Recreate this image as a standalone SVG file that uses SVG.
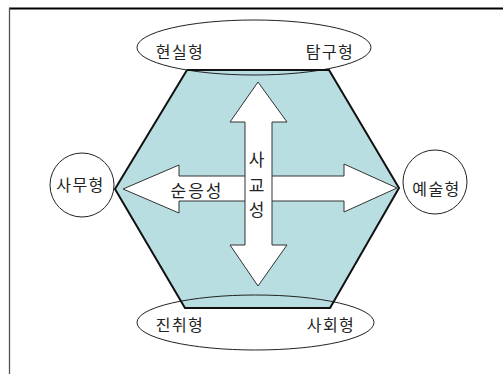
<svg xmlns="http://www.w3.org/2000/svg" width="503" height="374" viewBox="0 0 503 374">
<style>
text{font-family:"Noto Sans CJK KR","Noto Sans",sans-serif;fill:#222;text-anchor:middle}
.lbl{font-size:16px;letter-spacing:1.5px}
.big{font-size:17px;letter-spacing:2px}
.node{fill:none;stroke:#222;stroke-width:1}
.arrow{fill:#fff;stroke:#333;stroke-width:1;stroke-linejoin:miter}
</style>
<rect x="0" y="0" width="503" height="374" fill="#fff"/>
<g id="frame">
<line x1="9" y1="8.5" x2="503" y2="8.5" stroke="#000" stroke-width="2"/>
<line x1="9.5" y1="8" x2="9.5" y2="374" stroke="#555" stroke-width="1.3"/>
</g>
<g id="hexagon">
<polygon points="187,70 329,70 399,188 330,308 185,308 115,189" fill="#B9DEE2"/>
</g>
<g id="top-ellipse">
<ellipse class="node" cx="254" cy="47.5" rx="117" ry="27.5"/>
<text class="lbl" x="180" y="58">현실형</text>
<text class="lbl" x="330" y="58">탐구형</text>
</g>
<g id="bottom-ellipse">
<ellipse class="node" cx="255.5" cy="322.5" rx="118.5" ry="27.5"/>
<text class="lbl" x="180" y="331">진취형</text>
<text class="lbl" x="331" y="331">사회형</text>
</g>
<g id="hexagon-edges">
<polyline points="187,70 329,70 399,188 330,308 185,308 115,189 187,70" fill="none" stroke="#111" stroke-width="2" stroke-linejoin="miter"/>
</g>
<g id="left-node">
<circle class="node" cx="82" cy="185" r="32"/>
<text class="lbl" x="80.5" y="191">사무형</text>
</g>
<g id="right-node">
<circle class="node" cx="435" cy="182" r="32"/>
<text class="lbl" x="436.5" y="195">예술형</text>
</g>
<g id="connectors">
<polygon class="arrow" points="123,189 179,165 179,176 344,176 344,164 397,188 344,212 344,201 179,201 179,213"/>
<polygon class="arrow" points="258,82 287,122 272,122 272,245 287,245 258,286 230,245 245,245 245,122 230,122"/>
</g>
<g id="arrow-labels">
<text class="big" x="197" y="197">순응성</text>
<text class="big" x="257.5" y="166">사</text>
<text class="big" x="257.5" y="192">교</text>
<text class="big" x="257.5" y="216">성</text>
</g>
</svg>
